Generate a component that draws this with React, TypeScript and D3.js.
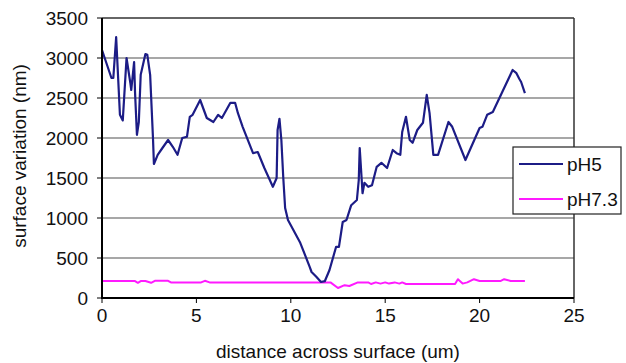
import React from "react";
import * as d3 from "d3";

const ph5X = [0, 0.5, 0.6, 0.75, 0.95, 1.1, 1.3, 1.5, 1.55, 1.7, 1.75, 1.85, 1.95, 2.05, 2.3, 2.4, 2.55, 2.7, 2.75, 2.95, 3.2, 3.5, 3.75, 4.0, 4.25, 4.5, 4.65, 4.8, 5.2, 5.55, 5.9, 6.15, 6.35, 6.8, 7.05, 7.2, 7.45, 8.0, 8.25, 8.6, 9.05, 9.25, 9.3, 9.4, 9.5, 9.6, 9.7, 9.85, 10.5, 11.0, 11.1, 11.35, 11.6, 11.8, 12.05, 12.4, 12.55, 12.75, 12.95, 13.2, 13.5, 13.6, 13.65, 13.8, 13.9, 14.1, 14.3, 14.55, 14.8, 15.1, 15.4, 15.6, 15.8, 15.9, 16.1, 16.3, 16.45, 16.7, 17.0, 17.2, 17.35, 17.55, 17.8, 18.35, 18.55, 19.25, 20.0, 20.15, 20.4, 20.7, 21.2, 21.75, 21.95, 22.1, 22.2, 22.4];
const ph5Y = [3100, 2750, 2750, 3260, 2290, 2220, 3000, 2690, 2600, 2950, 2570, 2040, 2200, 2790, 3050, 3040, 2790, 2000, 1675, 1790, 1875, 1975, 1890, 1790, 2000, 2015, 2265, 2290, 2475, 2250, 2200, 2290, 2250, 2440, 2440, 2310, 2140, 1810, 1825, 1625, 1390, 1500, 2100, 2240, 1975, 1510, 1125, 975, 690, 390, 325, 265, 200, 210, 350, 640, 640, 950, 975, 1160, 1225, 1475, 1875, 1310, 1440, 1390, 1410, 1640, 1690, 1625, 1850, 1810, 1790, 2075, 2265, 1975, 1940, 2100, 2190, 2540, 2310, 1790, 1790, 2200, 2140, 1725, 2125, 2140, 2290, 2325, 2575, 2850, 2810, 2740, 2700, 2560];

const ph73X = [0, 1.75, 1.9, 2.05, 2.3, 2.6, 2.8, 3.5, 3.65, 5.25, 5.45, 5.7, 12.1, 12.5, 12.85, 13.1, 13.55, 14.1, 14.25, 14.5, 14.75, 15.0, 15.2, 15.5, 15.75, 15.9, 16.1, 18.7, 18.85, 19.1, 19.35, 19.7, 20.0, 21.1, 21.3, 21.65, 22.4];
const ph73Y = [212, 212, 190, 212, 212, 190, 215, 215, 195, 195, 215, 195, 195, 125, 160, 150, 195, 195, 175, 195, 180, 195, 180, 195, 180, 195, 175, 175, 235, 180, 195, 235, 212, 212, 235, 212, 212];

const xTicks = [0, 5, 10, 15, 20, 25];
const yTicks = [0, 500, 1000, 1500, 2000, 2500, 3000, 3500];
const seriesNames = ["pH5", "pH7.3"];
const seriesColors = ["#1c1c86", "#ff1aff"];

export default function App() {
  const W = 626, H = 363;
  const left = 102, right = 574, top = 18, bottom = 298;
  const x = d3.scaleLinear().domain([0, 25]).range([left, right]);
  const y = d3.scaleLinear().domain([0, 3500]).range([bottom, top]);
  const line = d3.line<[number, number]>().x(d => x(d[0])).y(d => y(d[1]));
  const d5 = line(ph5X.map((v, i) => [v, ph5Y[i]]))!;
  const d73 = line(ph73X.map((v, i) => [v, ph73Y[i]]))!;
  const font = "'Liberation Sans', Arial, sans-serif";
  const fs = 19;
  return (
    <svg width={W} height={H} style={{ position: "absolute", left: 0, top: 0, background: "#fff" }} fontFamily={font}>
      {yTicks.slice(1, -1).map(t => (
        <line key={t} x1={left} x2={right} y1={y(t)} y2={y(t)} stroke="#8a8a8a" strokeWidth={1.5} />
      ))}
      <line x1={left} x2={right} y1={top} y2={top} stroke="#333" strokeWidth={1.5} />
      <line x1={right} x2={right} y1={top} y2={bottom} stroke="#333" strokeWidth={1.5} />
      <path d={d73} fill="none" stroke={seriesColors[1]} strokeWidth={2} strokeLinejoin="round" />
      <path d={d5} fill="none" stroke={seriesColors[0]} strokeWidth={2.2} strokeLinejoin="round" />
      <line x1={left} x2={left} y1={top} y2={bottom + 1} stroke="#000" strokeWidth={2} />
      <line x1={left - 1} x2={right} y1={bottom} y2={bottom} stroke="#000" strokeWidth={2} />
      {yTicks.map(t => (
        <g key={t}>
          <line x1={left - 5} x2={left} y1={y(t)} y2={y(t)} stroke="#000" strokeWidth={1} />
          <text x={left - 14} y={y(t)} dy="0.35em" textAnchor="end" fontSize={fs} fill="#111">{t}</text>
        </g>
      ))}
      {xTicks.map(t => (
        <g key={t}>
          <line x1={x(t)} x2={x(t)} y1={bottom} y2={bottom + 5} stroke="#000" strokeWidth={1} />
          <text x={x(t)} y={bottom + 24} textAnchor="middle" fontSize={fs} fill="#111">{t}</text>
        </g>
      ))}
      <text x={(left + right) / 2} y={358} textAnchor="middle" fontSize={fs} fill="#111">distance across surface (um)</text>
      <text transform={`translate(26,${(top + bottom) / 2 - 2}) rotate(-90)`} textAnchor="middle" fontSize={fs} fill="#111">surface variation (nm)</text>
      <rect x={513} y={147} width={108} height={67} fill="#fff" stroke="#222" strokeWidth={1.2} />
      {seriesNames.map((n, i) => (
        <g key={n}>
          <line x1={519} x2={563} y1={164 + i * 35} y2={164 + i * 35} stroke={seriesColors[i]} strokeWidth={2} />
          <text x={567} y={164 + i * 35} dy="0.35em" fontSize={fs} fill="#111">{n}</text>
        </g>
      ))}
    </svg>
  );
}
